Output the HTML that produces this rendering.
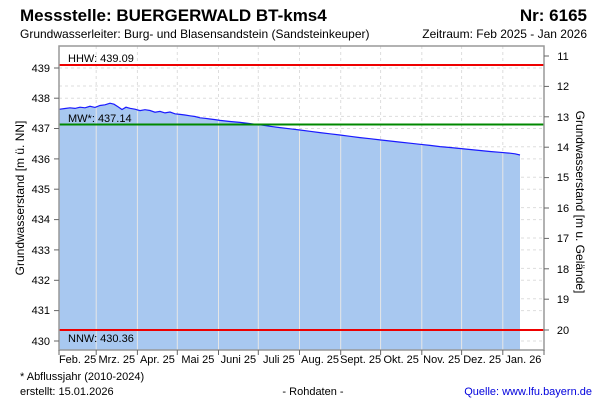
<!DOCTYPE html>
<html><head><meta charset="utf-8"><style>
body{margin:0;background:#fff;}
svg{display:block;font-family:"Liberation Sans",Arial,sans-serif;}
</style></head><body>
<svg width="600" height="400" viewBox="0 0 600 400" xmlns="http://www.w3.org/2000/svg">
<rect width="600" height="400" fill="#fff"/>
<text x="20" y="21" font-size="17" font-weight="bold">Messstelle: BUERGERWALD BT-kms4</text>
<text x="587" y="21" font-size="17" font-weight="bold" text-anchor="end">Nr: 6165</text>
<text x="20" y="38" font-size="12">Grundwasserleiter:  Burg- und Blasensandstein (Sandsteinkeuper)</text>
<text x="587" y="38" font-size="12" text-anchor="end">Zeitraum: Feb 2025 - Jan 2026</text>
<g stroke="#ddd" stroke-dasharray="3,3" stroke-width="1">
<line x1="59" x2="544" y1="68" y2="68"/><line x1="59" x2="544" y1="98.2" y2="98.2"/>
<line x1="59" x2="544" y1="128.5" y2="128.5"/><line x1="59" x2="544" y1="158.9" y2="158.9"/>
<line x1="59" x2="544" y1="189.2" y2="189.2"/><line x1="59" x2="544" y1="219.6" y2="219.6"/>
<line x1="59" x2="544" y1="249.9" y2="249.9"/><line x1="59" x2="544" y1="280.3" y2="280.3"/>
<line x1="59" x2="544" y1="310.6" y2="310.6"/><line x1="59" x2="544" y1="341" y2="341"/>
<line x1="59" x2="544" y1="86" y2="86"/><line x1="59" x2="544" y1="116.4" y2="116.4"/>
<line x1="59" x2="544" y1="146.8" y2="146.8"/><line x1="59" x2="544" y1="177.2" y2="177.2"/>
<line x1="59" x2="544" y1="207.6" y2="207.6"/><line x1="59" x2="544" y1="238" y2="238"/>
<line x1="59" x2="544" y1="268.4" y2="268.4"/><line x1="59" x2="544" y1="298.8" y2="298.8"/>
</g>
<g stroke="#ddd" stroke-dasharray="3,3">
<line x1="96.2" x2="96.2" y1="46" y2="350"/><line x1="137.4" x2="137.4" y1="46" y2="350"/>
<line x1="177.3" x2="177.3" y1="46" y2="350"/><line x1="218.5" x2="218.5" y1="46" y2="350"/>
<line x1="258.3" x2="258.3" y1="46" y2="350"/><line x1="299.5" x2="299.5" y1="46" y2="350"/>
<line x1="340.7" x2="340.7" y1="46" y2="350"/><line x1="380.6" x2="380.6" y1="46" y2="350"/>
<line x1="421.8" x2="421.8" y1="46" y2="350"/><line x1="461.6" x2="461.6" y1="46" y2="350"/>
<line x1="502.8" x2="502.8" y1="46" y2="350"/>
</g>
<path d="M59,350 L59,109.3 L65,108.5 L70,107.8 L75,108.4 L80,107.2 L85,107.8 L90,106.3 L95,107.4 L100,105.5 L105,104.8 L110,103.2 L114,104.2 L118,106.8 L122,109.5 L126,107.2 L130,108.3 L135,109.2 L140,110.6 L145,109.7 L150,110.5 L155,112.2 L160,111.4 L165,112.9 L170,112.0 L175,113.8 L180,114.4 L185,115.0 L190,115.8 L195,116.5 L200,117.8 L205,118.3 L210,119.0 L215,119.6 L220,120.4 L230,121.5 L240,122.4 L250,123.6 L260,124.8 L270,126.3 L280,127.6 L290,128.8 L300,130.0 L310,131.3 L320,132.6 L330,133.8 L340,135.0 L350,136.3 L360,137.6 L370,138.7 L380,139.9 L390,141.0 L400,142.1 L410,143.2 L420,144.3 L430,145.4 L440,146.6 L450,147.5 L460,148.5 L470,149.5 L480,150.5 L490,151.5 L500,152.3 L510,153.2 L515,153.8 L520,155.0 L520,350 Z" fill="#a8c8f0"/>
<g stroke="#e6e6e6" stroke-width="1">
<line x1="96.2" x2="96.2" y1="108" y2="350"/><line x1="137.4" x2="137.4" y1="111" y2="350"/>
<line x1="177.3" x2="177.3" y1="115" y2="350"/><line x1="218.5" x2="218.5" y1="121" y2="350"/>
<line x1="258.3" x2="258.3" y1="126" y2="350"/><line x1="299.5" x2="299.5" y1="131" y2="350"/>
<line x1="340.7" x2="340.7" y1="136" y2="350"/><line x1="380.6" x2="380.6" y1="141" y2="350"/>
<line x1="421.8" x2="421.8" y1="145" y2="350"/><line x1="461.6" x2="461.6" y1="149" y2="350"/>
<line x1="502.8" x2="502.8" y1="153" y2="350"/>
</g>
<polyline fill="none" stroke="#1a1aff" stroke-width="1.2" points="59,109.3 65,108.5 70,107.8 75,108.4 80,107.2 85,107.8 90,106.3 95,107.4 100,105.5 105,104.8 110,103.2 114,104.2 118,106.8 122,109.5 126,107.2 130,108.3 135,109.2 140,110.6 145,109.7 150,110.5 155,112.2 160,111.4 165,112.9 170,112.0 175,113.8 180,114.4 185,115.0 190,115.8 195,116.5 200,117.8 205,118.3 210,119.0 215,119.6 220,120.4 230,121.5 240,122.4 250,123.6 260,124.8 270,126.3 280,127.6 290,128.8 300,130.0 310,131.3 320,132.6 330,133.8 340,135.0 350,136.3 360,137.6 370,138.7 380,139.9 390,141.0 400,142.1 410,143.2 420,144.3 430,145.4 440,146.6 450,147.5 460,148.5 470,149.5 480,150.5 490,151.5 500,152.3 510,153.2 515,153.8 520,155.0"/>
<line x1="59" x2="544" y1="65" y2="65" stroke="#e00" stroke-width="2"/>
<line x1="59" x2="544" y1="124.5" y2="124.5" stroke="#080" stroke-width="2"/>
<line x1="59" x2="544" y1="330" y2="330" stroke="#e00" stroke-width="2"/>
<text x="68" y="62" font-size="11">HHW: 439.09</text>
<text x="68" y="122" font-size="11">MW*: 437.14</text>
<text x="68" y="342" font-size="11">NNW: 430.36</text>
<rect x="59" y="46" width="485" height="304" fill="none" stroke="#999" stroke-width="1.5"/>
<g stroke="#666">
<line x1="54" x2="59" y1="68" y2="68"/><line x1="54" x2="59" y1="98.2" y2="98.2"/><line x1="54" x2="59" y1="128.5" y2="128.5"/><line x1="54" x2="59" y1="158.9" y2="158.9"/><line x1="54" x2="59" y1="189.2" y2="189.2"/><line x1="54" x2="59" y1="219.6" y2="219.6"/><line x1="54" x2="59" y1="249.9" y2="249.9"/><line x1="54" x2="59" y1="280.3" y2="280.3"/><line x1="54" x2="59" y1="310.6" y2="310.6"/><line x1="54" x2="59" y1="341" y2="341"/>
<line x1="544" x2="549" y1="56" y2="56"/><line x1="544" x2="549" y1="86.4" y2="86.4"/><line x1="544" x2="549" y1="116.8" y2="116.8"/><line x1="544" x2="549" y1="147.2" y2="147.2"/><line x1="544" x2="549" y1="177.6" y2="177.6"/><line x1="544" x2="549" y1="208" y2="208"/><line x1="544" x2="549" y1="238.4" y2="238.4"/><line x1="544" x2="549" y1="268.8" y2="268.8"/><line x1="544" x2="549" y1="299.2" y2="299.2"/><line x1="544" x2="549" y1="330" y2="330"/>
<line x1="59" x2="59" y1="350" y2="355"/><line x1="96.2" x2="96.2" y1="350" y2="355"/><line x1="137.4" x2="137.4" y1="350" y2="355"/><line x1="177.3" x2="177.3" y1="350" y2="355"/><line x1="218.5" x2="218.5" y1="350" y2="355"/><line x1="258.3" x2="258.3" y1="350" y2="355"/><line x1="299.5" x2="299.5" y1="350" y2="355"/><line x1="340.7" x2="340.7" y1="350" y2="355"/><line x1="380.6" x2="380.6" y1="350" y2="355"/><line x1="421.8" x2="421.8" y1="350" y2="355"/><line x1="461.6" x2="461.6" y1="350" y2="355"/><line x1="502.8" x2="502.8" y1="350" y2="355"/><line x1="544" x2="544" y1="350" y2="355"/>
</g>
<g font-size="11" text-anchor="end">
<text x="50" y="72">439</text><text x="50" y="102">438</text><text x="50" y="132">437</text><text x="50" y="163">436</text><text x="50" y="193">435</text><text x="50" y="223">434</text><text x="50" y="254">433</text><text x="50" y="284">432</text><text x="50" y="314">431</text><text x="50" y="345">430</text>
</g>
<g font-size="11" text-anchor="middle">
<text x="563" y="60">11</text><text x="563" y="90">12</text><text x="563" y="121">13</text><text x="563" y="151">14</text><text x="563" y="181">15</text><text x="563" y="212">16</text><text x="563" y="242">17</text><text x="563" y="273">18</text><text x="563" y="303">19</text><text x="563" y="334">20</text>
</g>
<g font-size="11" text-anchor="middle">
<text x="77.6" y="363">Feb. 25</text><text x="116.8" y="363">Mrz. 25</text><text x="157.4" y="363">Apr. 25</text><text x="197.9" y="363">Mai 25</text><text x="238.4" y="363">Juni 25</text><text x="278.9" y="363">Juli 25</text><text x="320.1" y="363">Aug. 25</text><text x="360.6" y="363">Sept. 25</text><text x="401.2" y="363">Okt. 25</text><text x="441.7" y="363">Nov. 25</text><text x="482.2" y="363">Dez. 25</text><text x="523.4" y="363">Jan. 26</text>
</g>
<text transform="translate(24,198) rotate(-90)" font-size="12" text-anchor="middle">Grundwasserstand [m ü. NN]</text>
<text transform="translate(576,202) rotate(90)" font-size="12" text-anchor="middle">Grundwasserstand [m u. Gelände]</text>
<text x="20" y="380" font-size="11">* Abflussjahr (2010-2024)</text>
<text x="20" y="395" font-size="11">erstellt:  15.01.2026</text>
<text x="313" y="395" font-size="11" text-anchor="middle">- Rohdaten -</text>
<text x="592" y="395" font-size="11" text-anchor="end" fill="#0000dd">Quelle: www.lfu.bayern.de</text>
</svg>
</body></html>
